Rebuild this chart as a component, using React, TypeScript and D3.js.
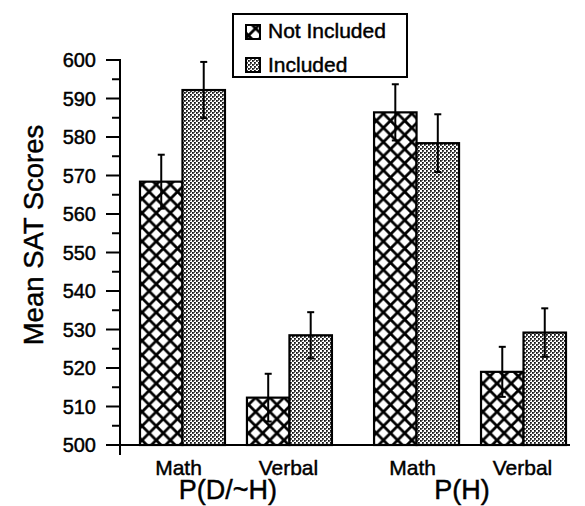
import * as d3 from "d3";

const groups = ["P(D/~H)", "P(H)"];
const categories = ["Math", "Verbal"];
const seriesNames = ["Not Included", "Included"];

// values per group x category, in order [P(D/~H) Math, P(D/~H) Verbal, P(H) Math, P(H) Verbal]
const notIncluded = [568.4, 512.3, 586.4, 519.0];
const included = [592.2, 528.5, 578.4, 529.2];
const notIncludedErr = [7.0, 6.2, 7.3, 6.5];
const includedErr = [7.3, 6.0, 7.5, 6.3];

const yTicks = [500, 510, 520, 530, 540, 550, 560, 570, 580, 590, 600];
const yMinor = [505, 515, 525, 535, 545, 555, 565, 575, 585, 595];

const font = "'Liberation Sans', Arial, Helvetica, sans-serif";

export default function App() {
  const width = 585;
  const height = 506;
  const axisX = 120;

  const y = d3.scaleLinear().domain([500, 600]).range([445, 60]);

  const xGroup = d3
    .scaleBand()
    .domain(groups)
    .range([140, 566])
    .paddingInner(0.18)
    .paddingOuter(0);

  const xCat = d3
    .scaleBand()
    .domain(categories)
    .range([0, xGroup.bandwidth()])
    .paddingInner(0.2056)
    .paddingOuter(0);

  const xSeries = d3
    .scaleBand()
    .domain(seriesNames)
    .range([0, xCat.bandwidth()])
    .padding(0);

  const rows = groups.flatMap((g, gi) =>
    categories.map((c, ci) => {
      const i = gi * categories.length + ci;
      return {
        group: g,
        cat: c,
        x0: (xGroup(g) ?? 0) + (xCat(c) ?? 0),
        values: [
          { s: seriesNames[0], v: notIncluded[i], e: notIncludedErr[i] },
          { s: seriesNames[1], v: included[i], e: includedErr[i] },
        ],
      };
    })
  );

  const fills = ["url(#hatch)", "url(#dots)"];
  const bw = xSeries.bandwidth();
  // scanned text looks heavy, thicken a bit
  const ink = { fill: "#000", stroke: "#000", strokeWidth: 0.45 };

  return (
    <svg
      width={width}
      height={height}
      style={{ position: "absolute", left: 0, top: 0, background: "#fff" }}
      fontFamily={font}
    >
      <defs>
        <pattern id="hatch" patternUnits="userSpaceOnUse" width={14.2} height={14.2}>
          <rect width={14.2} height={14.2} fill="#fff" />
          <path d="M0,0L14.2,14.2M14.2,0L0,14.2" stroke="#000" strokeWidth={2.8} />
        </pattern>
        <pattern id="dots" patternUnits="userSpaceOnUse" width={4} height={4}>
          <rect width={4} height={4} fill="#fff" />
          <rect x={0} y={0} width={1.8} height={1.8} fill="#111" />
          <rect x={2} y={2} width={1.8} height={1.8} fill="#111" />
          <rect x={2} y={0} width={1} height={1} fill="#666" />
        </pattern>
      </defs>

      {/* bars */}
      {rows.map((r) =>
        r.values.map((d, si) => (
          <rect
            key={r.group + r.cat + d.s}
            x={r.x0 + (xSeries(d.s) ?? 0)}
            y={y(d.v)}
            width={bw}
            height={y(500) - y(d.v)}
            fill={fills[si]}
            stroke="#000"
            strokeWidth={2.2}
          />
        ))
      )}

      {/* error bars */}
      {rows.map((r) =>
        r.values.map((d) => {
          const cx = r.x0 + (xSeries(d.s) ?? 0) + bw / 2;
          return (
            <g key={"e" + r.group + r.cat + d.s} stroke="#000" strokeWidth={2}>
              <line x1={cx} x2={cx} y1={y(d.v + d.e)} y2={y(d.v - d.e)} />
              <line x1={cx - 3.5} x2={cx + 3.5} y1={y(d.v + d.e)} y2={y(d.v + d.e)} />
              <line x1={cx - 3.5} x2={cx + 3.5} y1={y(d.v - d.e)} y2={y(d.v - d.e)} />
            </g>
          );
        })
      )}

      {/* axes */}
      <line x1={axisX} x2={axisX} y1={y(600) - 1} y2={y(500) + 10} stroke="#000" strokeWidth={2} />
      <line x1={106} x2={570} y1={y(500)} y2={y(500)} stroke="#000" strokeWidth={2} />
      {yTicks.map((t) => (
        <g key={t}>
          <line x1={106} x2={axisX} y1={y(t)} y2={y(t)} stroke="#000" strokeWidth={2} />
          <text x={96} y={y(t)} dy="0.36em" textAnchor="end" fontSize={20} {...ink}>
            {t}
          </text>
        </g>
      ))}
      {yMinor.map((t) => (
        <line key={t} x1={112} x2={axisX} y1={y(t)} y2={y(t)} stroke="#000" strokeWidth={2} />
      ))}

      <text
        transform={`translate(43,${235}) rotate(-90)`}
        textAnchor="middle"
        fontSize={27.5}
        {...ink}
      >
        Mean SAT Scores
      </text>

      {/* category and group labels */}
      {rows.map((r) => (
        <text
          key={"l" + r.group + r.cat}
          x={r.x0 + xCat.bandwidth() / 2}
          dx={r.cat === "Math" ? -4 : -1}
          y={475}
          textAnchor="middle"
          fontSize={21}
          {...ink}
        >
          {r.cat}
        </text>
      ))}
      {groups.map((g) => (
        <text
          key={g}
          x={(xGroup(g) ?? 0) + xGroup.bandwidth() / 2}
          dx={-8}
          y={499}
          textAnchor="middle"
          fontSize={27}
          {...ink}
        >
          {g}
        </text>
      ))}

      {/* legend */}
      <rect x={233} y={14} width={174} height={63} fill="#fff" stroke="#000" strokeWidth={2} />
      {seriesNames.map((s, i) => (
        <g key={s}>
          <rect
            x={246}
            y={25 + i * 33}
            width={14}
            height={14}
            fill={fills[i]}
            stroke="#000"
            strokeWidth={2}
          />
          <text x={268} y={38 + i * 34} fontSize={21} {...ink}>
            {s}
          </text>
        </g>
      ))}
    </svg>
  );
}
